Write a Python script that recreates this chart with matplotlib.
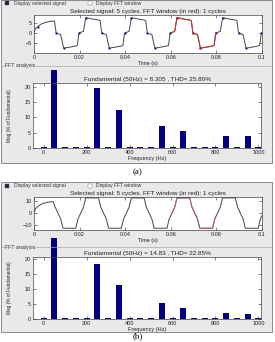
import numpy as np
import matplotlib
matplotlib.use('Agg')
import matplotlib.pyplot as plt
from matplotlib.patches import Rectangle
from matplotlib.transforms import Bbox, blended_transform_factory

W, H = 275, 342
plt.rcParams['font.family'] = ['Liberation Sans', 'DejaVu Sans']

# ---------------- data ----------------
freqs = [0, 50, 100, 150, 200, 250, 300, 350, 400, 450, 500,
         550, 600, 650, 700, 750, 800, 850, 900, 950, 1000]
mag_a = [0.3, 100, 0.3, 0.3, 0.3, 19.5, 0.3, 12.6, 0.3, 0.3, 0.3,
         7.2, 0.3, 5.6, 0.3, 0.3, 0.3, 4.0, 0.3, 3.9, 0.3]
mag_b = [0.3, 100, 0.3, 0.3, 0.3, 18.4, 0.3, 11.4, 0.3, 0.3, 0.3,
         5.5, 0.3, 3.8, 0.3, 0.3, 0.3, 2.0, 0.3, 1.6, 0.3]
title_a = 'Fundamental (50Hz) = 8.305 , THD= 25.80%'
title_b = 'Fundamental (50Hz) = 14.83 , THD= 22.85%'
sig_title = 'Selected signal: 5 cycles. FFT window (in red): 1 cycles'

period = 0.02
# signal (a): first half cycle (start-up), then one steady cycle
first_t_a = [0, 0.0004, 0.0010, 0.0017, 0.0030, 0.0050, 0.0070, 0.0085, 0.0090]
first_v_a = [0, 1.5, 2.6, 3.2, 4.4, 5.3, 5.8, 6.0, 5.8]
cyc_t_a = [0.0097, 0.0117, 0.0130, 0.0145, 0.0165, 0.0183, 0.0190,
           0.0197, 0.0217, 0.0227, 0.0240, 0.0260, 0.0283, 0.0290]
cyc_v_a = [0.0, -0.8, -7.6, -7.3, -6.9, -6.5, -6.2,
           0.0, 0.8, 7.6, 7.4, 6.9, 6.5, 6.2]
mark_t_a = [0.0097, 0.0130, 0.0197, 0.0227]
mark_v_a = [0.0, -7.6, 0.0, 7.6]

# signal (b)
first_t_b = [0, 0.0004, 0.0010, 0.0020, 0.0040, 0.0060, 0.0078, 0.0084]
first_v_b = [0, 2.5, 4.5, 6.3, 8.3, 9.3, 9.8, 9.6]
cyc_t_b = [0.0093, 0.0117, 0.0127, 0.0183, 0.0193, 0.0217, 0.0227, 0.0283]
cyc_v_b = [5, -5, -13, -13, -5, 5, 13, 13]


def build(ft, fv, ct, cv):
    t = list(ft)
    v = list(fv)
    for k in range(6):
        t += [c + k * period for c in ct]
        v += cv
    return np.array(t), np.array(v)


ta, va = build(first_t_a, first_v_a, cyc_t_a, cyc_v_a)
tb, vb = build(first_t_b, first_v_b, cyc_t_b, cyc_v_b)
mta, mva = build([0.0017], [3.2], mark_t_a, mark_v_a)


# ---------------- helpers ----------------
def rect(x0, y0, x1, y1):
    return [x0 / W, 1 - y1 / H, (x1 - x0) / W, (y1 - y0) / H]


def fy(y):
    return 1 - y / H


def style(ax):
    ax.tick_params(direction='in', length=2, width=0.4, labelsize=4,
                   pad=1.5, top=True, right=True, colors='#222222')
    for s in ax.spines.values():
        s.set_linewidth(0.5)
        s.set_color('#444444')


fig = plt.figure(figsize=(W / 100, H / 100), dpi=100)
fig.patch.set_facecolor('white')

# pixel layout of each GUI panel (top-left origin)
lay_a = dict(box=(0, 163), chk=3, sig=(15, 53), grp=66, fft=(83, 148), cap=172)
lay_b = dict(box=(182, 332), chk=186, sig=(197, 230), grp=247, fft=(257, 319), cap=336)


def panel(L, sig_t, sig_v, ylim, yticks, red_col, mags, ftitle, fft_ytop, clip_top, marks, cap):
    # gray GUI panel
    y0, y1 = L['box']
    fig.patches.append(Rectangle((1 / W, fy(y1)), 271 / W, (y1 - y0) / H,
                                 transform=fig.transFigure, facecolor='#e9e9e9',
                                 edgecolor='#7a7a7a', lw=0.6, zorder=-2))
    # check boxes
    c = L['chk']
    fig.patches.append(Rectangle((5 / W, fy(c + 2)), 4 / W, 4 / H,
                                 transform=fig.transFigure, facecolor='#222244',
                                 edgecolor='#555555', lw=0.3, zorder=-1))
    fig.text(14 / W, fy(c), 'Display selected signal', fontsize=3.6,
             va='center', color='#333333')
    fig.patches.append(Rectangle((88 / W, fy(c + 2)), 4 / W, 4 / H,
                                 transform=fig.transFigure, facecolor='white',
                                 edgecolor='#777777', lw=0.3, zorder=-1))
    fig.text(96 / W, fy(c), 'Display FFT window', fontsize=3.6,
             va='center', color='#333333')

    # time signal
    ax1 = fig.add_axes(rect(34, L['sig'][0], 262, L['sig'][1]))
    ax1.plot(sig_t, sig_v, color='#454545', lw=0.7)
    tr = blended_transform_factory(ax1.transData, ax1.transAxes)
    win = Rectangle((0.06, 0), 0.02, 1, transform=tr, facecolor='none', edgecolor='none')
    ax1.add_patch(win)
    l2, = ax1.plot(sig_t, sig_v, color=red_col, lw=0.7)
    l2.set_clip_path(win)
    if marks is not None:
        mt, mv = marks
        ax1.plot(mt, mv, ls='none', marker='o', ms=1.6, mew=0, color='#1a1a80')
        m2, = ax1.plot(mt, mv, ls='none', marker='o', ms=1.6, mew=0, color='#c03030')
        m2.set_clip_path(win)
    ax1.set_xlim(0, 0.1)
    ax1.set_ylim(*ylim)
    ax1.set_xticks([0, 0.02, 0.04, 0.06, 0.08, 0.1])
    ax1.set_xticklabels(['0', '0.02', '0.04', '0.06', '0.08', '0.1'])
    ax1.set_yticks(yticks)
    style(ax1)
    ax1.set_title(sig_title, fontsize=4.6, pad=1.2, color='#222222')
    ax1.set_xlabel('Time (s)', fontsize=4, labelpad=0.5, color='#222222')

    # FFT analysis group line
    g = L['grp']
    fig.add_artist(plt.Line2D([2 / W, 271 / W], [fy(g)] * 2,
                              transform=fig.transFigure, color='#a8a8a8', lw=0.5))
    fig.text(5 / W, fy(g), 'FFT analysis', fontsize=3.8, va='center',
             color='#333333',
             bbox=dict(facecolor='#e9e9e9', edgecolor='none', pad=0.3))

    # spectrum
    ax2 = fig.add_axes(rect(33, L['fft'][0], 261, L['fft'][1]))
    bars = ax2.bar(freqs, mags, width=28, color='#000080', edgecolor='none')
    ax2.set_xlim(-50, 1012)
    ax2.set_ylim(0, fft_ytop)
    ax2.set_xticks([0, 200, 400, 600, 800, 1000])
    ax2.set_yticks([0, 5, 10, 15, 20])
    style(ax2)
    ax2.set_title(ftitle, fontsize=4.6, pad=1.5, color='#222222')
    ax2.set_xlabel('Frequency (Hz)', fontsize=4, labelpad=0.5, color='#222222')
    ax2.set_ylabel('Mag (% of Fundamental)', fontsize=3.4, labelpad=9, color='#222222')
    fig.canvas.draw()
    bb = ax2.get_window_extent()
    clip = Bbox([[bb.x0, bb.y0], [bb.x1, H - clip_top]])
    for b in bars:
        b.set_clip_box(clip)

    fig.text(0.5, fy(L['cap']), cap, fontsize=6.5, ha='center', va='center',
             family='Liberation Serif')


panel(lay_a, ta, va, (-10, 9), [-5, 0, 5], '#cc3333', mag_a, title_a, 21.3, 70,
      (mta, mva), '(a)')
panel(lay_b, tb, vb, (-14.5, 13.8), [-10, 0, 10], '#b06a6a', mag_b, title_b, 20.7, 238,
      None, '(b)')

fig.savefig('out.png', dpi=100)
